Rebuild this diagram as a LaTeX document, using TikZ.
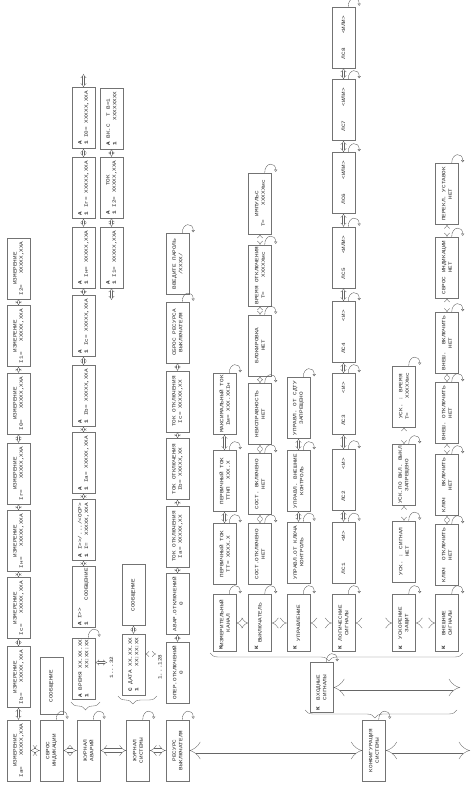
\documentclass[tikz,border=0pt]{standalone}
\usepackage{fontspec}
\usetikzlibrary{arrows.meta,decorations.pathreplacing}
\newfontfamily\lcdfont[FakeStretch=1.2]{Liberation Mono}
\newcommand{\lcd}{\lcdfont\fontsize{5pt}{6.4pt}\selectfont}
\newcommand{\enterhook}[1]{\draw[hookarr] ([yshift=7pt]#1.south east) .. controls +(11pt,0pt) and +(10pt,0pt) .. ([xshift=1pt,yshift=-4pt]#1.south east);}

\begin{document}
\begin{tikzpicture}[
    x=1pt, y=1pt, rotate=90, transform shape,
    menubox/.style={draw=black!55, line width=0.4pt, minimum width=61pt, minimum height=23pt, inner sep=1pt, font=\lcd, text=black!85, align=center},
    abox/.style={menubox, align=left},
    kbox/.style={menubox, minimum width=57pt, label={[kmark]west:К}},
    kmark/.style={anchor=west, inner sep=1.5pt, yshift=3.5pt, font=\lcd\bfseries, text=black!85},
    dblarr/.style={draw=black!60, line width=0.35pt, double=white, double distance=1.8pt, {Implies}-{Implies}},
    lvlarr/.style={dblarr, double distance=3.5pt},
    widearr/.style={dblarr, double distance=6pt},
    hookarr/.style={draw=black!65, line width=0.35pt, -{Triangle[open, length=2.2pt, width=3.2pt]}},
    grpbrace/.style={draw=black!60, line width=0.35pt, decorate, decoration={brace, amplitude=8pt, aspect=#1}},
    grpbrace/.default=0.5,
    rng/.style={font=\lcd, text=black!85, inner sep=0.5pt}
]
    \useasboundingbox (0,0) rectangle (788,-472);

    % Menú principal (columna izquierda)
    \node[menubox] (izm1) at (37.5,-18.5) {ИЗМЕРЕНИЕ\\Ia=~~~XXXXX,XXA};
    \node[menubox] (sbros) at (37.5,-51.5) {СБРОС\\ИНДИКАЦИИ};
    \node[menubox] (zhavar) at (37.5,-88.5) {ЖУРНАЛ\\АВАРИЙ};
    \node[menubox] (zhsys) at (37.5,-138) {ЖУРНАЛ\\СИСТЕМЫ};
    \node[menubox] (res) at (37.5,-177.5) {РЕСУРС\\ВЫКЛЮЧАТЕЛЯ};
    \node[menubox] (konf) at (37.5,-374) {КОНФИГУРАЦИЯ\\СИСТЕМЫ};
    \coordinate (konf-end) at (37.5,-470);

    \draw[lvlarr] (izm1) -- (sbros);
    \draw[lvlarr] (sbros) -- (zhavar);
    \draw[lvlarr] (zhavar) -- (zhsys);
    \draw[lvlarr] (zhsys) -- (res);
    \draw[widearr] (res) -- (konf);
    \draw[widearr] (konf) -- (konf-end);

    % Mediciones
    \node[menubox] (izm2) at (111,-18.5) {ИЗМЕРЕНИЕ\\Ib=~~~XXXXX,XXA};
    \node[menubox] (izm3) at (180,-18.5) {ИЗМЕРЕНИЕ\\Ic=~~~XXXXX,XXA};
    \node[menubox] (izm4) at (247,-18.5) {ИЗМЕРЕНИЕ\\Iн=~~~XXXXX,XXA};
    \node[menubox] (izm5) at (314.5,-18.5) {ИЗМЕРЕНИЕ\\Iг=~~~XXXXX,XXA};
    \node[menubox] (izm6) at (384.5,-18.5) {ИЗМЕРЕНИЕ\\I0=~~~XXXXX,XXA};
    \node[menubox] (izm7) at (452,-18.5) {ИЗМЕРЕНИЕ\\I1=~~~XXXXX,XXA};
    \node[menubox] (izm8) at (519.5,-18.5) {ИЗМЕРЕНИЕ\\I2=~~~XXXXX,XXA};
    \draw[dblarr] (izm1) -- (izm2);
    \draw[dblarr] (izm2) -- (izm3);
    \draw[dblarr] (izm3) -- (izm4);
    \draw[dblarr] (izm4) -- (izm5);
    \draw[dblarr] (izm5) -- (izm6);
    \draw[dblarr] (izm6) -- (izm7);
    \draw[dblarr] (izm7) -- (izm8);

    % Reposición de indicación
    \node[menubox, minimum width=57pt] (soob1) at (102,-51.5) {СООБЩЕНИЕ};
    \enterhook{sbros}

    % Registro de averías
    \node[abox] (av0) at (119.5,-83.5) {\textbf{А} ВРЕМЯ XX.XX.XX\\\textbf{1}~~~~~~~XX:XX:XX};
    \node[abox] (av1) at (191,-83.5) {\textbf{А} I>\kern0pt>\\\textbf{1}~~~~~~СООБЩЕНИЕ};
    \node[abox] (av2) at (258,-83.5) {\textbf{А} I>\kern0pt>/.../<ОСР>\\\textbf{1} I=~~XXXXX,XXA};
    \node[abox] (av3) at (325,-83.5) {\textbf{А}\\\textbf{1} Ia= XXXXX,XXA};
    \node[abox] (av4) at (392,-83.5) {\textbf{А}\\\textbf{1} Ib= XXXXX,XXA};
    \node[abox] (av5) at (462,-83.5) {\textbf{А}\\\textbf{1} Ic= XXXXX,XXA};
    \node[abox] (av6) at (530.5,-83.5) {\textbf{А}\\\textbf{1} Iн= XXXXX,XXA};
    \node[abox] (av7) at (600,-83.5) {\textbf{А}\\\textbf{1} Iг= XXXXX,XXA};
    \node[abox] (av8) at (670,-83.5) {\textbf{А}\\\textbf{1} I0= XXXXX,XXA};
    \node[abox] (av9) at (530.5,-111.5) {\textbf{А}\\\textbf{1} I1= XXXXX,XXA};
    \node[abox] (av10) at (600.5,-111.5) {\textbf{А}~~~~~~~ТОК\\\textbf{1} I2= XXXXX,XXA};
    \node[abox] (av11) at (669.5,-111.5) {\textbf{А} ВК.С~~Т~В=1\\\textbf{1}~~~~~~XXXXXXXX};
    \coordinate (av-cont) at (714,-83.5);
    \coordinate (av-back) at (488,-111.5);
    \coordinate (av-rng) at (125.5,-107);
    \node[rng] (n32) at (120.5,-111.5) {1...32};
    \draw[grpbrace] (86,-100) -- (86,-71);
    \enterhook{zhavar}
    \enterhook{av0}
    \draw[dblarr] (av0.south -| av-rng) -- (av-rng);
    \draw[dblarr] (av1) -- (av2);
    \draw[dblarr] (av2) -- (av3);
    \draw[dblarr] (av3) -- (av4);
    \draw[dblarr] (av4) -- (av5);
    \draw[dblarr] (av5) -- (av6);
    \draw[dblarr] (av6) -- (av7);
    \draw[dblarr] (av7) -- (av8);
    \draw[dblarr] (av8) -- (av-cont);
    \draw[dblarr] (av-back) -- (av9);
    \draw[dblarr] (av9) -- (av10);
    \draw[dblarr] (av10) -- (av11);

    % Registro del sistema
    \node[abox] (data) at (123.5,-133.5) {\textbf{С} ДАТА XX.XX.XX\\\textbf{1}~~~~~~XX:XX:XX};
    \node[menubox] (soob2) at (193,-133.5) {СООБЩЕНИЕ};
    \coordinate (data-rng) at (134,-156);
    \node[rng] (n128) at (121,-160) {1...128};
    \draw[grpbrace=0.62] (92,-157) -- (92,-118);
    \enterhook{zhsys}
    \draw[dblarr] (data) -- (soob2);
    \draw[dblarr] (data.south -| data-rng) -- (data-rng);

    % Recurso del interruptor
    \node[menubox] (oper) at (115.5,-177.5) {ОПЕР.ОТКЛЮЧЕНИЙ\\0};
    \node[menubox] (avar) at (184,-177.5) {АВАР.ОТКЛЮЧЕНИЙ\\0};
    \node[menubox] (tia) at (251.5,-177.5) {ТОК ОТКЛЮЧЕНИЯ\\Ia= XXXXX,XX};
    \node[menubox] (tib) at (319,-177.5) {ТОК ОТКЛЮЧЕНИЯ\\Ib= XXXXX,XX};
    \node[menubox] (tic) at (386.5,-177.5) {ТОК ОТКЛЮЧЕНИЯ\\Ic= XXXXX,XX};
    \node[menubox] (sbrres) at (455.5,-177.5) {СБРОС РЕСУРСА\\ВЫКЛЮЧАТЕЛЯ};
    \node[menubox] (parol) at (524,-177.5) {ВВЕДИТЕ ПАРОЛЬ\\/XXXX/};
    \enterhook{res}
    \draw[dblarr] (oper) -- (avar);
    \draw[dblarr] (avar) -- (tia);
    \draw[dblarr] (tia) -- (tib);
    \draw[dblarr] (tib) -- (tic);
    \draw[dblarr] (tic) -- (sbrres);
    \enterhook{sbrres}
    \enterhook{parol}

    % Configuración del sistema
    \node[kbox, minimum width=50pt] (vhod) at (100.5,-321.5) {ВХОДНЫЕ\\СИГНАЛЫ};
    \coordinate (vhod-end) at (100.5,-460);
    \draw[grpbrace=0.54] (78,-457) -- (78,-305);
    \enterhook{konf}
    \enterhook{vhod}
    \draw[widearr] (vhod) -- (vhod-end);
    \draw[grpbrace=0.53] (135,-463) -- (135,-210);

    \node[kbox] (kizm) at (165,-224.5) {ИЗМЕРИТЕЛЬНЫЙ\\КАНАЛ};
    \node[kbox] (kvykl) at (165,-260) {ВЫКЛЮЧАТЕЛЬ};
    \node[kbox] (kupr) at (165,-298.5) {УПРАВЛЕНИЕ};
    \node[kbox] (klog) at (165,-343.5) {ЛОГИЧЕСКИЕ\\СИГНАЛЫ};
    \node[kbox] (kusk) at (165,-404) {УСКОРЕНИЕ\\ЗАЩИТ};
    \node[kbox] (kvnesh) at (165,-447) {ВНЕШНИЕ\\СИГНАЛЫ};
    \draw[lvlarr] (kizm) -- (kvykl);
    \draw[lvlarr] (kvykl) -- (kupr);
    \draw[lvlarr] (kupr) -- (klog);
    \draw[lvlarr] (klog) -- (kusk);
    \draw[lvlarr] (kusk) -- (kvnesh);
    \enterhook{kizm}
    \enterhook{kvykl}
    \enterhook{kupr}
    \enterhook{klog}
    \enterhook{kusk}
    \enterhook{kvnesh}

    % Canal de medida
    \node[menubox] (kan1) at (234,-224.5) {ПЕРВИЧНЫЙ ТОК\\ТТ= XXXX.X};
    \node[menubox] (kan2) at (307,-224.5) {ПЕРВИЧНЫЙ ТОК\\ТТНП~~XXX.X};
    \node[menubox] (kan3) at (384,-224.5) {МАКСИМАЛЬНЫЙ ТОК\\Iм= XXX.XXIн};
    \draw[dblarr] (kan1) -- (kan2);
    \draw[dblarr] (kan2) -- (kan3);
    \enterhook{kan1}
    \enterhook{kan2}
    \enterhook{kan3}

    % Interruptor
    \node[menubox] (vyk1) at (234,-260) {СОСТ.ОТКЛЮЧЕНО\\НЕТ};
    \node[menubox] (vyk2) at (304,-260) {СОСТ. ВКЛЮЧЕНО\\НЕТ};
    \node[menubox] (vyk3) at (374,-260) {НЕИСПРАВНОСТЬ\\НЕТ};
    \node[menubox] (vyk4) at (442.5,-260) {БЛОКИРОВКА\\НЕТ};
    \node[menubox] (vyk5) at (512.5,-260) {ВРЕМЯ ОТКЛЮЧЕНИЯ\\Т=~~~~XXXXXмс};
    \node[menubox] (vyk6) at (584.5,-260) {ИМПУЛЬС\\Т=~~~~XXXXXмс};
    \draw[dblarr] (vyk1) -- (vyk2);
    \draw[dblarr] (vyk2) -- (vyk3);
    \draw[dblarr] (vyk3) -- (vyk4);
    \draw[dblarr] (vyk4) -- (vyk5);
    \draw[dblarr] (vyk5) -- (vyk6);
    \enterhook{vyk1}
    \enterhook{vyk2}
    \enterhook{vyk3}
    \enterhook{vyk4}
    \enterhook{vyk5}
    \enterhook{vyk6}

    % Mando
    \node[menubox] (upr1) at (235.5,-298.5) {УПРАВЛ.ОТ КЛЮЧА\\КОНТРОЛЬ};
    \node[menubox] (upr2) at (307,-298.5) {УПРАВЛ. ВНЕШНИЕ\\КОНТРОЛЬ};
    \node[menubox] (upr3) at (380,-298.5) {УПРАВЛ. ОТ СДТУ\\ЗАПРЕЩЕНО};
    \draw[dblarr] (upr1) -- (upr2);
    \draw[dblarr] (upr2) -- (upr3);
    \enterhook{upr1}
    \enterhook{upr2}
    \enterhook{upr3}

    % Señales lógicas
    \node[menubox] (log1) at (235.5,-343.5) {ЛС1~~~~~~<И>};
    \node[menubox] (log2) at (308,-343.5) {ЛС2~~~~~~<И>};
    \node[menubox] (log3) at (384,-343.5) {ЛС3~~~~~~<И>};
    \node[menubox] (log4) at (456,-343.5) {ЛС4~~~~~~<И>};
    \node[menubox] (log5) at (530.5,-343.5) {ЛС5~~~~<ИЛИ>};
    \node[menubox] (log6) at (605,-343.5) {ЛС6~~~~<ИЛИ>};
    \node[menubox] (log7) at (678,-343.5) {ЛС7~~~~<ИЛИ>};
    \node[menubox] (log8) at (750.5,-343.5) {ЛС8~~~~<ИЛИ>};
    \draw[dblarr] (log1) -- (log2);
    \draw[dblarr] (log2) -- (log3);
    \draw[dblarr] (log3) -- (log4);
    \draw[dblarr] (log4) -- (log5);
    \draw[dblarr] (log5) -- (log6);
    \draw[dblarr] (log6) -- (log7);
    \draw[dblarr] (log7) -- (log8);
    \enterhook{log1}
    \enterhook{log2}
    \enterhook{log3}
    \enterhook{log4}
    \enterhook{log5}
    \enterhook{log6}
    \enterhook{log7}
    \enterhook{log8}

    % Aceleración de protecciones
    \node[menubox] (usk1) at (236.5,-404) {УСК. : СИГНАЛ\\НЕТ};
    \node[menubox] (usk2) at (313,-404) {УСК.ПО ВКЛ. ВЫКЛ\\ЗАПРЕЩЕНО};
    \node[menubox] (usk3) at (391.5,-404) {УСК. : ВРЕМЯ\\Т=~~~~XXXXXмс};
    \draw[dblarr] (usk1) -- (usk2);
    \draw[dblarr] (usk2) -- (usk3);
    \enterhook{usk1}
    \enterhook{usk2}
    \enterhook{usk3}

    % Señales externas
    \node[menubox] (vn1) at (233,-447) {КЛЮЧ~ ОТКЛЮЧИТЬ\\НЕТ};
    \node[menubox] (vn2) at (303,-447) {КЛЮЧ~~ ВКЛЮЧИТЬ\\НЕТ};
    \node[menubox] (vn3) at (375,-447) {ВНЕШ. ОТКЛЮЧИТЬ\\НЕТ};
    \node[menubox] (vn4) at (445,-447) {ВНЕШ.~ ВКЛЮЧИТЬ\\НЕТ};
    \node[menubox] (vn5) at (520.5,-447) {СБРОС ИНДИКАЦИИ\\НЕТ};
    \node[menubox] (vn6) at (594,-447) {ПЕРЕКЛ. УСТАВОК\\НЕТ};
    \draw[dblarr] (vn1) -- (vn2);
    \draw[dblarr] (vn2) -- (vn3);
    \draw[dblarr] (vn3) -- (vn4);
    \draw[dblarr] (vn4) -- (vn5);
    \draw[dblarr] (vn5) -- (vn6);
    \enterhook{vn1}
    \enterhook{vn2}
    \enterhook{vn3}
    \enterhook{vn4}
    \enterhook{vn5}
    \enterhook{vn6}
\end{tikzpicture}
\end{document}
